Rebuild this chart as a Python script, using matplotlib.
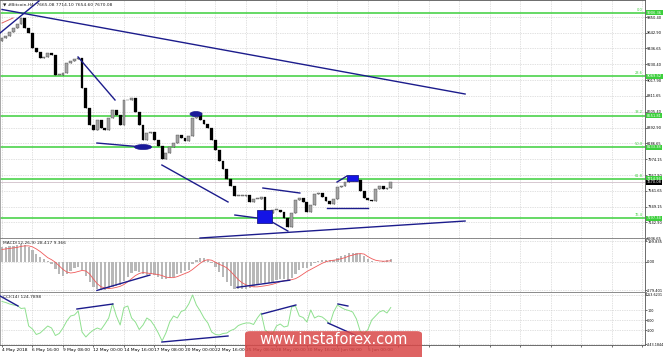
import matplotlib
matplotlib.use("Agg")
import matplotlib.pyplot as plt
import matplotlib.patches as patches
import matplotlib.transforms as mtrans
import numpy as np

plt.rcParams['font.family'] = ['DejaVu Sans']

# closes every 2nd H4 bar (8h steps)
first_open = 9540
closes = [9577, 9600, 9655, 9710, 9760, 9840, 9710, 9643, 9445, 9390,
          9311, 9325, 9378, 9351, 9086, 9086, 9113, 9245, 9271, 9298,
          9311, 8914, 8648, 8423, 8357, 8500, 8384, 8357, 8516, 8622,
          8556, 8423, 8754, 8754, 8781, 8596, 8423, 8225, 8317, 8330,
          8225, 8145, 7985, 8065, 8131, 8184, 8290, 8251, 8211, 8277,
          8516, 8582, 8489, 8437, 8384, 8225, 8092, 7959, 7853, 7720,
          7628, 7495, 7495, 7495, 7508, 7415, 7455, 7455, 7482, 7230,
          7270, 7309, 7309, 7283, 7203, 7084, 7270, 7442, 7468, 7415,
          7283, 7376, 7522, 7535, 7482, 7429, 7389, 7455, 7614, 7628,
          7681, 7720, 7694, 7707, 7561, 7468, 7442, 7429, 7588, 7628,
          7588, 7601, 7670]

macd_main = [140, 145, 150, 155, 165, 170, 160, 145, 110, 80,
             50, 25, 5, -20, -70, -120, -140, -120, -90, -65,
             -55, -80, -140, -200, -245, -270, -279, -275, -265, -245,
             -235, -230, -190, -150, -110, -95, -100, -120, -125, -120,
             -130, -145, -170, -170, -160, -145, -120, -105, -95, -80,
             -20, 20, 40, 35, 20, -10, -50, -100, -150, -200,
             -240, -262, -270, -268, -262, -258, -245, -230, -210, -215,
             -210, -195, -180, -170, -170, -180, -160, -120, -85, -65,
             -60, -45, -15, 10, 20, 20, 15, 20, 40, 55,
             70, 85, 90, 90, 75, 55, 30, 5, -5, 0,
             10, 18, 28.417]

macd_signal = [120, 125, 130, 135, 140, 150, 155, 155, 145, 125,
               100, 70, 40, 20, -5, -40, -75, -100, -110, -105,
               -95, -85, -90, -120, -170, -215, -245, -255, -262, -258,
               -250, -240, -222, -195, -165, -135, -115, -105, -110, -115,
               -120, -125, -135, -150, -155, -155, -145, -130, -115, -100,
               -75, -45, -15, 10, 20, 15, -5, -25, -40, -60,
               -95, -135, -175, -205, -225, -238, -245, -245, -240, -235,
               -228, -220, -208, -195, -185, -180, -175, -165, -145, -120,
               -95, -75, -55, -35, -15, 0, 10, 15, 20, 30,
               40, 55, 65, 75, 80, 75, 50, 30, 15, 8,
               5, 6, 9.366]

cci = [185, 175, 160, 150, 145, 115, 120, -60, -90, -145,
       -130, -95, -60, -80, -155, -135, -80, -10, 40, 50,
       90, -120, -170, -130, -100, -80, -95, -40, 20, 165,
       40, -50, 125, 140, 20, -20, -95, -50, 20, -5,
       -60, -130, -210, -130, -20, 40, 20, 85, 100, 160,
       250, 150, 90, 20, -30, -120, -145, -150, -135, -130,
       -105, -90, -55, -40, -30, -30, -45, 20, 70, -100,
       -130, -140, -60, -40, -70, -60, 130, 140, 40, 25,
       -20, 100, 20, 40, 30, 0, -40, 80, 150, 125,
       105, 95, 80, 10, -115, -140, -95, 0, 40, 80,
       95, 70, 124.79]

fib_names = ['0.0', '23.6', '38.2', '50.0', '61.8', '76.4']
fib_prices = [9906.36, 9069.52, 8551.81, 8133.38, 7714.96, 7197.34]
price_ticks = [9850.40, 9642.90, 9436.65, 9230.40, 9017.90, 8811.65, 8605.40,
               8392.90, 8186.65, 7974.15, 7767.90, 7561.65, 7349.15, 7142.90, 6936.65]
last_price = 7670.08
macd_ticks = [199.835, 0.0, -279.401]
cci_ticks = [253.6231, 100, 0, -100, -243.1844]
cci_tick_labels = ['253.6231', '100', '0.00', '-100', '-243.1844']
time_labels = ['4 May 2018', '6 May 16:00', '9 May 08:00', '12 May 00:00',
               '14 May 16:00', '17 May 08:00', '20 May 00:00', '22 May 16:00',
               '25 May 08:00', '28 May 00:00', '30 May 16:00', '2 Jun 08:00',
               '5 Jun 00:00']

# drawn objects, (bar, price, bar, price) with bar = H4 bars since 4 May 00:00
main_lines = [(0, 9950, 243, 8836), (-1, 9640, 19.4, 10062),
              (39.9, 9324, 59.3, 8757), (49.8, 8190, 74, 8137),
              (83.9, 7900, 118.6, 7413), (122.2, 7241, 133.8, 7202),
              (136.9, 7597, 156.3, 7531), (141.7, 7149, 150, 7030),
              (170.5, 7334, 192, 7334), (175.8, 7676, 181, 7755),
              (103.9, 6938, 243, 7162)]
red_line = (0, 9772, 5.8, 9838)
blue_boxes = [(133.8, 7136, 141.7, 7307), (181, 7689, 186.8, 7768)]
blue_ellipses = [(74, 8137, 8.9, 66), (101.8, 8572, 6.3, 66)]
macd_lines = [(49.8, -280, 77.6, -130), (123.3, -250, 151, -180)]
cci_lines = [(-1, 240, 8.4, 140), (39.3, 110, 58.2, 160), (83.9, -220, 118.6, -160),
             (136.4, 60, 154.2, 150), (171, -30, 185.2, -150), (176.3, 160, 181.5, 140)]

W, H = 665, 357
fig = plt.figure(figsize=(W / 100, H / 100), dpi=100)
fig.patch.set_facecolor('white')


def rect(x0, y0, x1, y1):
    return [x0 / W, 1 - y1 / H, (x1 - x0) / W, (y1 - y0) / H]


ax = fig.add_axes(rect(0, 0, 645, 239))
ax2 = fig.add_axes(rect(0, 239, 645, 293))
ax3 = fig.add_axes(rect(0, 293, 645, 345))

navy = '#1c1c8c'
green = '#3ccf3c'
fs = 3.2
yfs = 2.6
grid_bars = np.arange(0, 337, 16)

for a in (ax, ax2, ax3):
    a.set_xlim(-1.05, 337.4)
    a.set_xticks(grid_bars)
    a.yaxis.tick_right()
    a.tick_params(axis='y', labelsize=yfs, length=1.2, width=0.4, pad=0.4)
    a.tick_params(axis='x', length=1.5, width=0.4, labelsize=fs, pad=0.6)
    a.grid(True, color='#c4c4c4', linestyle=(0, (1, 1.5)), linewidth=0.5)
    a.set_axisbelow(True)
    for s in a.spines.values():
        s.set_linewidth(0.6)
        s.set_color('#555555')
    a.spines['left'].set_color('#999999')

ax.set_xticklabels([])
ax2.set_xticklabels([])
ax3.set_xticklabels(time_labels + [''] * (len(grid_bars) - len(time_labels)), ha='left')
ax.spines['bottom'].set_linewidth(2)
ax.spines['bottom'].set_color('#808080')
ax2.spines['bottom'].set_linewidth(2)
ax2.spines['bottom'].set_color('#808080')
ax2.spines['top'].set_visible(False)
ax3.spines['top'].set_visible(False)

# ---- main price panel
ax.set_ylim(6925, 10075)
ax.set_yticks(price_ticks)
ax.set_yticklabels(['%.2f' % p for p in price_ticks])

bars = np.arange(len(closes)) * 2
opens = np.array([first_open] + closes[:-1], dtype=float)
cl = np.array(closes, dtype=float)
up = cl >= opens
body = np.where(np.abs(cl - opens) < 8, 8, cl - opens)
ax.vlines(bars, np.minimum(opens, cl), np.maximum(opens, cl), color='#222222',
          lw=0.5, zorder=3)
ax.bar(bars[up], body[up], bottom=opens[up], width=1.5,
       color='#a4a4a4', edgecolor='#333333', linewidth=0.25, zorder=3)
ax.bar(bars[~up], body[~up], bottom=opens[~up], width=1.5,
       color='black', edgecolor='black', linewidth=0.2, zorder=3)

trans = mtrans.blended_transform_factory(ax.transAxes, ax.transData)
for name, p in zip(fib_names, fib_prices):
    ax.axhline(p, color=green, lw=1.1, zorder=2)
    ax.text(0.997, p + 15, name, transform=trans, ha='right', va='bottom',
            fontsize=yfs, color=green)
    ax.text(1.003, p, '%.2f' % p, transform=trans, ha='left', va='center',
            fontsize=yfs, color='white', clip_on=False, zorder=6,
            bbox=dict(fc=green, ec='none', pad=0.5))
ax.axhline(last_price, color='#d6c8d0', lw=0.7, zorder=2)
ax.text(1.003, last_price, '%.2f' % last_price, transform=trans, ha='left',
        va='center', fontsize=yfs, color='white', clip_on=False, zorder=6,
        bbox=dict(fc='black', ec='none', pad=0.5))

for x0, y0, x1, y1 in main_lines:
    ax.plot([x0, x1], [y0, y1], color=navy, lw=1.0, zorder=4)
ax.plot(red_line[::2], red_line[1::2], color='#e06060', lw=0.7, zorder=4)
for x0, y0, x1, y1 in blue_boxes:
    ax.add_patch(patches.Rectangle((x0, y0), x1 - x0, y1 - y0, fc='#1414e6',
                                   ec=navy, lw=0.6, zorder=5))
for cx, cy, w, h in blue_ellipses:
    ax.add_patch(patches.Ellipse((cx, cy), w, h, fc='#1a1a9a', ec=navy,
                                 lw=0.5, zorder=5))

ax.text(0.004, 0.988, '\u25bc #Bitcoin,H4  7665.08 7714.10 7654.60 7670.08',
        transform=ax.transAxes, ha='left', va='top', fontsize=fs, color='#222222', zorder=7)

# ---- MACD
ax2.set_ylim(-305, 222)
ax2.set_yticks(macd_ticks)
ax2.set_yticklabels(['199.835', '0.00', '-279.401'])
mb = np.arange(len(macd_main)) * 2
ax2.bar(mb, macd_main, width=1.2, color='#b8b8b8', zorder=2)
ax2.plot(np.arange(len(macd_signal)) * 2, macd_signal, color='#ef5a5a', lw=0.6, zorder=3)
for x0, y0, x1, y1 in macd_lines:
    ax2.plot([x0, x1], [y0, y1], color=navy, lw=1.0, zorder=4)
ax2.text(0.004, 0.96, 'MACD(12,26,9) 28.417 9.366', transform=ax2.transAxes,
         ha='left', va='top', fontsize=fs, color='#222222')

# ---- CCI
ax3.set_ylim(-250, 270)
ax3.set_yticks(cci_ticks)
ax3.set_yticklabels(cci_tick_labels)
ax3.tick_params(axis='y', labelsize=2.4)
ax3.plot(np.arange(len(cci)) * 2, cci, color='#8fe08f', lw=0.7, zorder=3)
for x0, y0, x1, y1 in cci_lines:
    ax3.plot([x0, x1], [y0, y1], color=navy, lw=1.0, zorder=4)
ax3.text(0.004, 0.96, 'CCI(14) 124.7898', transform=ax3.transAxes,
         ha='left', va='top', fontsize=fs, color='#222222')

# ---- watermark
fig.patches.append(patches.FancyBboxPatch((245 / W, -0.02), 177 / W, 33 / H,
                                          boxstyle='round,pad=0,rounding_size=0.008',
                                          transform=fig.transFigure, fc='#d94848',
                                          ec='none', alpha=0.85, zorder=10))
fig.text(333.5 / W, 1 - 340 / H, 'www.instaforex.com', ha='center', va='center',
         fontsize=10.5, color='white', zorder=11)

fig.savefig('out.png', dpi=100)
